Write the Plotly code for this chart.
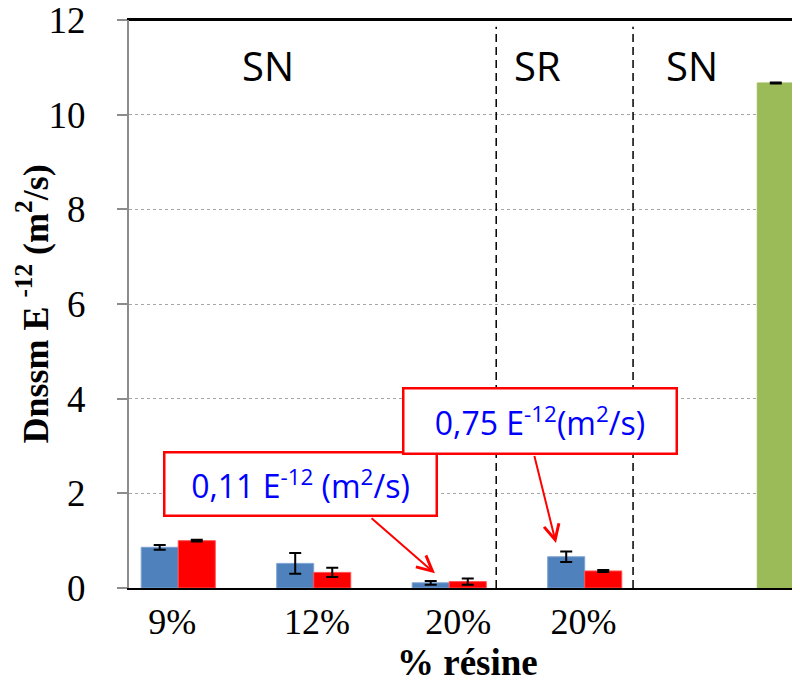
import plotly.graph_objects as go

# ---- data ----
categories = ["9%", "12%", "20%", "20%"]
cat_index = [0, 1, 2, 3]
blue_values = [0.86, 0.52, 0.11, 0.66]
blue_errors = [0.05, 0.22, 0.04, 0.11]
red_values = [1.00, 0.33, 0.135, 0.36]
red_errors = [0.02, 0.10, 0.065, 0.02]
green_index = [4]
green_values = [10.67]
green_errors = [0.01]
y_ticks = [0, 2, 4, 6, 8, 10, 12]

BLUE = "#4F81BD"
RED = "#FF0000"
GREEN = "#9BBB59"
SERIF = "Liberation Serif"
SANS = "Open Sans"

def err(vals):
    return dict(type="data", array=vals, visible=True, color="black",
                thickness=2, width=6)

fig = go.Figure()
fig.add_trace(go.Bar(x=cat_index, y=blue_values, error_y=err(blue_errors),
                     marker=dict(color=BLUE, line=dict(color="#7FA3D3", width=1)),
                     showlegend=False))
fig.add_trace(go.Bar(x=cat_index, y=red_values, error_y=err(red_errors),
                     marker=dict(color=RED, line=dict(color="#FF5050", width=1)),
                     showlegend=False))
fig.add_trace(go.Bar(x=green_index, y=green_values, error_y=err(green_errors),
                     marker=dict(color=GREEN, line=dict(color=GREEN, width=1)),
                     showlegend=False))

# tick label positions (slightly left of each group centre, as in the original)
label_pos = [-0.18, 0.887, 1.93, 2.855]

# page has an 8px body margin, so the figure is 792x678
fig.update_layout(
    width=792, height=678,
    margin=dict(l=121, r=0, t=12, b=98),
    paper_bgcolor="white", plot_bgcolor="white",
    barmode="group", bargap=0.18, bargroupgap=0,
    xaxis=dict(range=[-0.5, 4.452], tickvals=label_pos, ticktext=categories,
               showline=True, linecolor="black", linewidth=2, mirror=True,
               showgrid=False, zeroline=False, ticks="", automargin=False,
               tickfont=dict(family=SERIF, size=36, color="black"),
               ticklabelstandoff=1, ticklabeloverflow="allow"),
    yaxis=dict(range=[0, 12], tickvals=y_ticks, automargin=False,
               showline=True, linecolor="#8C8C8C", linewidth=2,
               ticks="outside", ticklen=10, tickwidth=1.5, tickcolor="#8C8C8C",
               showgrid=True, gridcolor="#A6A6A6", gridwidth=1, griddash="dot",
               zeroline=False,
               tickfont=dict(family=SERIF, size=37, color="black"),
               ticklabelstandoff=24, ticklabeloverflow="allow"),
)

# top border line of the plot area
fig.add_shape(type="line", x0=0, x1=1, y0=1, y1=1, xref="paper", yref="paper",
              line=dict(color="black", width=2))

# dashed separators
for xv in [2.21, 3.22]:
    fig.add_shape(type="line", x0=xv, x1=xv, y0=0, y1=11.86, xref="x", yref="y",
                  line=dict(color="black", width=1.5, dash="8px,5px"))

# section labels
for txt, xv in [("SN", 0.526), ("SR", 2.518), ("SN", 3.655)]:
    fig.add_annotation(x=xv, y=11.03, xref="x", yref="y", text=txt, showarrow=False,
                       font=dict(family=SANS, size=40, color="black"))

# arrows
fig.add_annotation(x=1.758, y=0.31, ax=1.279, ay=1.50, xref="x", yref="y",
                   axref="x", ayref="y", text="", showarrow=True,
                   arrowhead=5, arrowsize=1.5, arrowwidth=2, arrowcolor=RED)
fig.add_annotation(x=2.651, y=0.95, ax=2.489, ay=2.82, xref="x", yref="y",
                   axref="x", ayref="y", text="", showarrow=True,
                   arrowhead=5, arrowsize=1.5, arrowwidth=2, arrowcolor=RED)

# callout boxes
fig.add_annotation(x=0.762, y=2.19, xref="x", yref="y", showarrow=False,
                   text="0,11 E<sup>-12</sup> (m<sup>2</sup>/s)",
                   font=dict(family=SANS, size=32, color="#0000FF"),
                   bgcolor="white", bordercolor=RED, borderwidth=2.5, borderpad=1,
                   width=268, height=59)
fig.add_annotation(x=2.53, y=3.53, xref="x", yref="y", showarrow=False,
                   text="0,75 E<sup>-12</sup>(m<sup>2</sup>/s)",
                   font=dict(family=SANS, size=32, color="#0000FF"),
                   bgcolor="white", bordercolor=RED, borderwidth=2.5, borderpad=1,
                   width=269, height=61)

# axis titles
fig.add_annotation(x=(33 - 129) / 671, y=0.499, xref="paper", yref="paper",
                   xanchor="center", yanchor="middle",
                   text="<b>Dnssm E <sup>-12</sup> (m<sup>2</sup>/s)</b>", textangle=-90,
                   showarrow=False, font=dict(family=SERIF, size=36, color="black"))
fig.add_annotation(x=0.504, y=-0.131, xref="paper", yref="paper",
                   xanchor="center", yanchor="middle",
                   text="<b>% résine</b>", showarrow=False,
                   font=dict(family=SERIF, size=37, color="black"))

fig.write_html("out.html")
